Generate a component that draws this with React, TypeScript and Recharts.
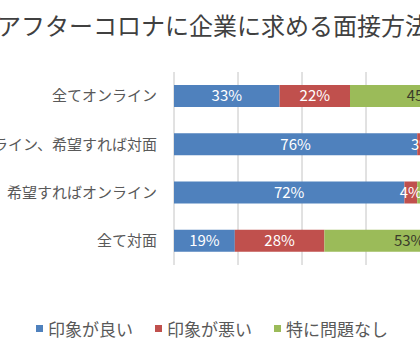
import { BarChart, Bar, XAxis, YAxis, CartesianGrid, Legend, LabelList, ReferenceLine } from "recharts";

const CATEGORIES = [
  "全てオンライン",
  "基本オンライン、希望すれば対面",
  "基本対面、希望すればオンライン",
  "全て対面",
];
const GOOD = [33, 76, 72, 19];
const BAD = [22, 3, 4, 28];
const NEUTRAL = [45, 21, 24, 53];

const SERIES = [
  { key: "good", name: "印象が良い", color: "#4f81bd", label: "#ffffff" },
  { key: "bad", name: "印象が悪い", color: "#c0504d", label: "#ffffff" },
  { key: "neutral", name: "特に問題なし", color: "#9bbb59", label: "#3a3a2a" },
];

const MINOR_TICKS = [4, 8, 12, 16, 24, 28, 32, 36, 44, 48, 52, 56, 64, 68, 72, 76, 84, 88, 92, 96];
const MAJOR_TICKS = [0, 20, 40, 60, 80, 100];

const FONT = '"Noto Sans CJK JP", "Noto Sans", sans-serif';

const CHART_W = 600;
const CHART_H = 356;
const MARGIN = { top: 72, right: 26, bottom: 66, left: 0 };

const data = CATEGORIES.map((name, i) => ({
  name,
  good: GOOD[i],
  bad: BAD[i],
  neutral: NEUTRAL[i],
}));

function LegendBox() {
  return (
    <div style={{ display: "flex", alignItems: "center", fontFamily: FONT, fontSize: 17, color: "#595959" }}>
      {SERIES.map((s) => (
        <div key={s.key} style={{ display: "flex", alignItems: "center", marginRight: 22 }}>
          <span style={{ width: 7, height: 7, background: s.color, display: "inline-block", marginRight: 5 }} />
          <span>{s.name}</span>
        </div>
      ))}
    </div>
  );
}

export default function App() {
  return (
    <div
      style={{
        position: "absolute",
        left: 0,
        top: 0,
        width: 420,
        height: 356,
        overflow: "hidden",
        background: "#ffffff",
      }}
    >
      <div
        style={{
          position: "absolute",
          left: 213,
          top: 9,
          transform: "translateX(-50%)",
          whiteSpace: "nowrap",
          fontFamily: FONT,
          fontSize: 24,
          color: "#404040",
          lineHeight: "32px",
        }}
      >
        アフターコロナに企業に求める面接方法
      </div>

      {/* minor gridlines in a chart underneath, so the bars cover them */}
      <div style={{ position: "absolute", left: -80, top: 0 }}>
        <BarChart width={CHART_W} height={CHART_H} data={data} layout="vertical" margin={MARGIN}>
          <XAxis type="number" domain={[0, 100]} hide />
          <YAxis type="category" dataKey="name" width={254} axisLine={false} tickLine={false} tick={false} />
          {MINOR_TICKS.map((t) => (
            <ReferenceLine key={t} x={t} stroke="#e4e4e4" />
          ))}
        </BarChart>
      </div>

      <div style={{ position: "absolute", left: -80, top: 0 }}>
        <BarChart width={CHART_W} height={CHART_H} data={data} layout="vertical" margin={MARGIN}>
          <XAxis type="number" domain={[0, 100]} ticks={MAJOR_TICKS} interval={0} hide />
          <YAxis
            type="category"
            dataKey="name"
            width={254}
            axisLine={false}
            tickLine={false}
            tickSize={0}
            tickMargin={17}
            tick={{ fontSize: 15, fill: "#595959", fontFamily: FONT }}
          />
          <CartesianGrid horizontal={false} stroke="#c4c4c4" />
          {SERIES.map((s) => (
            <Bar
              key={s.key}
              dataKey={s.key}
              name={s.name}
              stackId="a"
              fill={s.color}
              barSize={22}
              isAnimationActive={false}
            >
              <LabelList
                dataKey={s.key}
                position="center"
                formatter={(v: any) => `${v}%`}
                fill={s.label}
                style={{ fontSize: 15, fontFamily: FONT }}
              />
            </Bar>
          ))}
          <Legend
            content={() => <LegendBox />}
            wrapperStyle={{ position: "absolute", left: 116, top: 316, width: "auto" }}
          />
        </BarChart>
      </div>
    </div>
  );
}
